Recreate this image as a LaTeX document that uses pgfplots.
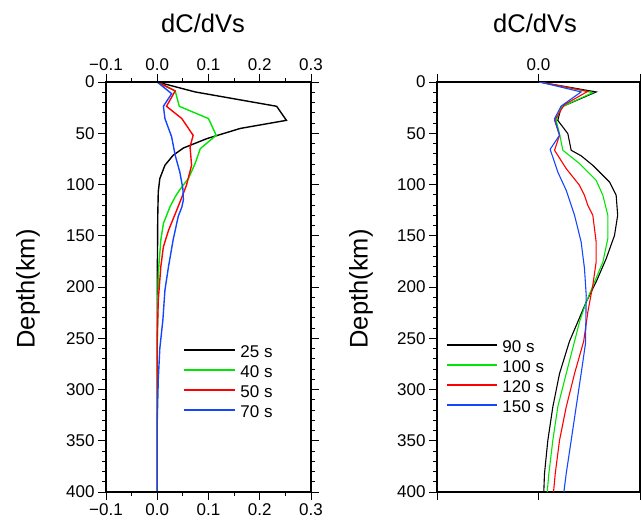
\documentclass[border=0pt]{standalone}
\usepackage{fontspec}
\setmainfont{Liberation Sans}
\usepackage{pgfplots}
\pgfplotsset{compat=1.18}
\definecolor{cGreen}{RGB}{0,230,0}
\definecolor{cRed}{RGB}{255,0,0}
\definecolor{cBlue}{RGB}{20,70,255}
\pgfplotsset{
  dc base/.style={
    scale only axis, width=205pt, height=410pt,
    anchor=north west,
    y dir=reverse, ymin=0, ymax=400,
    ytick={0,50,...,400}, minor y tick num=4,
    tick align=outside,
    major tick length=8pt, minor tick length=4pt,
    axis line style={line width=1.1pt},
    tick style={black, line width=0.9pt},
    tick label style={font=\fontsize{17}{20}\selectfont},
    /pgf/number format/assume math mode=true,
    legend style={draw=none, fill=none, inner sep=0pt, outer sep=0pt,
      anchor=north west, column sep=5pt,
      nodes={inner xsep=0pt, inner ysep=0pt, text height=14pt, text depth=6pt,
        font=\fontsize{17}{20}\selectfont}},
    legend cell align=left,
  }
}
\begin{document}
\begin{tikzpicture}
% left panel
\begin{axis}[dc base, at={(106pt,-82pt)},
  xmin=-0.1, xmax=0.3, xtick={-0.1,0,0.1,0.2,0.3},
  xticklabels={−0.1,0.0,0.1,0.2,0.3}, minor x tick num=1,
  xtick pos=both, xticklabel pos=lower,
  ytick pos=both, yticklabel pos=left,
  legend style={at={(0.376,0.362)}},
  legend image code/.code={\draw[#1] (0pt,3.5pt) -- (51pt,3.5pt);},
  every axis plot/.append style={line width=1.4pt},
]
\addplot[black] coordinates {
  (0,0) (0.074,9.7) (0.233,23.7) (0.252,37.4) (0.162,45.3) (0.097,55.2)
  (0.051,64.4) (0.031,71.5) (0.015,81.2) (0.005,94.2) (0.002,107)
  (0.001,130) (0,200) (0,400)};
\addlegendentry{25 s}
\addplot[cGreen] coordinates {
  (0,0) (0.035,8.7) (0.043,23.7) (0.100,35.7) (0.115,52) (0.084,65)
  (0.074,79.4) (0.061,94) (0.044,105) (0.035,112) (0.025,121.6)
  (0.012,138) (0.007,154) (0.002,187) (0.001,220) (0,260) (0,400)};
\addlegendentry{40 s}
\addplot[cRed] coordinates {
  (0,0) (0.035,8.7) (0.018,23.7) (0.048,35.7) (0.070,52) (0.064,63.4)
  (0.067,81.2) (0.057,100.7) (0.046,115) (0.038,125) (0.022,144.7)
  (0.012,160.7) (0.007,180) (0.002,213) (0,250) (0,400)};
\addlegendentry{50 s}
\addplot[cBlue] coordinates {
  (0,0) (0.028,11.4) (0.012,23.7) (0.015,35.7) (0.028,53.4) (0.035,71.5)
  (0.044,87.8) (0.050,104) (0.051,115) (0.048,122) (0.041,131)
  (0.031,154) (0.022,180) (0.015,203) (0.011,232) (0.005,260)
  (0.002,290) (0,330) (0,400)};
\addlegendentry{70 s}
\end{axis}
% top labels of the left panel
\begin{axis}[dc base, at={(106pt,-82pt)},
  xmin=-0.1, xmax=0.3, xtick={-0.1,0,0.1,0.2,0.3},
  xticklabels={−0.1,0.0,0.1,0.2,0.3}, minor x tick num=1,
  xtick pos=upper, xticklabel pos=upper,
  ytick=\empty, minor y tick num=0,
]
\end{axis}
% right panel
\begin{axis}[dc base, width=203pt, at={(437pt,-82pt)},
  xmin=-1, xmax=1, xtick={-1,0,1}, xticklabels={,0.0,},
  xtick pos=both, xticklabel pos=upper,
  ytick pos=left,
  legend style={at={(0.044,0.374)}},
  legend image code/.code={\draw[#1, line width=1.5pt] (0pt,3.5pt) -- (50pt,3.5pt);},
]
\addplot[black, line width=1.1pt] coordinates {
  (0.01,0) (0.568,9.7) (0.224,24.4) (0.19,37.4) (0.289,50.4) (0.322,66.6)
  (0.42,72) (0.535,81.3) (0.70,97.6) (0.765,110.5) (0.78,130) (0.749,149.6)
  (0.667,172.3) (0.568,195) (0.47,214.6) (0.387,234) (0.305,253)
  (0.207,284.5) (0.141,317) (0.092,349.6) (0.059,382) (0.052,400)};
\addlegendentry{90 s}
\addplot[cGreen, line width=1.1pt] coordinates {
  (0.01,0) (0.535,10.4) (0.224,24.4) (0.174,37.4) (0.207,50.4) (0.24,66.6)
  (0.404,79.6) (0.568,95.9) (0.634,110.5) (0.683,130) (0.683,152.8)
  (0.634,175.6) (0.552,195) (0.47,214.6) (0.404,234) (0.355,253)
  (0.273,284.5) (0.19,317) (0.141,349.6) (0.102,382) (0.086,400)};
\addlegendentry{100 s}
\addplot[cRed, line width=1.1pt] coordinates {
  (0.01,0) (0.486,9.1) (0.256,22) (0.158,37.4) (0.207,52) (0.158,66.6)
  (0.273,84.5) (0.404,100.8) (0.453,110.5) (0.486,120.3) (0.535,130)
  (0.568,156) (0.568,175.6) (0.535,198.3) (0.486,224.4) (0.445,253)
  (0.355,284.5) (0.273,317) (0.207,349.6) (0.165,382) (0.148,400)};
\addlegendentry{120 s}
\addplot[cBlue, line width=1.1pt] coordinates {
  (0.01,0) (0.42,9.7) (0.224,23.4) (0.158,35.7) (0.207,52) (0.115,65.7)
  (0.19,87.8) (0.273,105.7) (0.322,120.3) (0.355,130) (0.42,156)
  (0.453,182) (0.47,208) (0.463,255) (0.42,284.5) (0.371,317)
  (0.322,349.6) (0.273,382) (0.25,400)};
\addlegendentry{150 s}
\end{axis}
\node[font=\fontsize{25.5}{30}\selectfont] at (203pt,-23pt) {dC/dVs};
\node[font=\fontsize{25.5}{30}\selectfont] at (535pt,-23pt) {dC/dVs};
\node[font=\fontsize{25.5}{30}\selectfont, rotate=90] at (28pt,-289pt) {Depth(km)};
\node[font=\fontsize{25.5}{30}\selectfont, rotate=90] at (361pt,-289pt) {Depth(km)};
\pgfresetboundingbox
\useasboundingbox (0pt,0pt) rectangle (642pt,-529pt);
\end{tikzpicture}
\end{document}
